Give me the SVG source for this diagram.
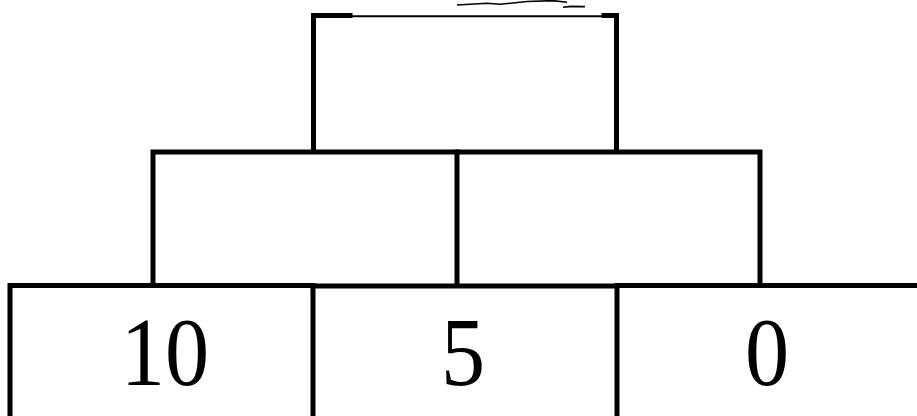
<svg xmlns="http://www.w3.org/2000/svg" width="917" height="416" viewBox="0 0 917 416">
<style>
.b{fill:none;stroke:#000;stroke-width:5;stroke-linecap:square}
.t{font-family:"Liberation Serif","Times New Roman",serif;font-size:97px;fill:#000;text-anchor:middle}
.s{fill:none;stroke:#000;stroke-width:1.6}
</style>
<rect width="917" height="416" fill="#fff"/>
<g id="top">
<path class="b" d="M313.5 150V15.5H350M604 15.5H616.5V150"/>
<line x1="350" y1="16.3" x2="604" y2="16.3" stroke="#000" stroke-width="2"/>
<path class="s" d="M457 5L487 3.2L500 4.3L527 1.5L553 0.6L567 2.3"/>
<path class="s" d="M563 7.2L571 6.4L585 6.6"/>
</g>
<g id="mid-left">
<path class="b" d="M153 284V152H457V284"/>
</g>
<g id="mid-right">
<path class="b" d="M457 152H760V284"/>
</g>
<g id="bottom-1">
<path class="b" d="M10 420V285.5H313V420"/>
<text class="t" transform="translate(165 385) scale(0.91 1)">10</text>
</g>
<g id="bottom-2">
<path class="b" d="M313 286H617V420"/>
<text class="t" transform="translate(463 385) scale(0.91 1)">5</text>
</g>
<g id="bottom-3">
<path class="b" d="M617 285.5H920"/>
<text class="t" transform="translate(767 385) scale(0.91 1)">0</text>
</g>
<g id="connectors"></g>
</svg>
